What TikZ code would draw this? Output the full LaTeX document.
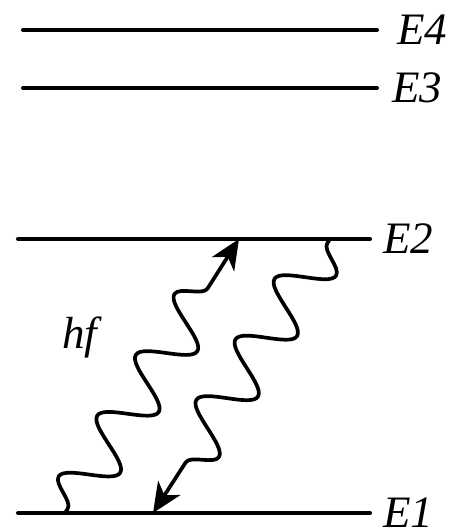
\documentclass[tikz,border=0pt]{standalone}
\usepackage{fontspec}
\setmainfont{Liberation Serif}
\usetikzlibrary{arrows.meta, positioning, decorations.pathmorphing}

\begin{document}
\begin{tikzpicture}[
  level/.style={line width=2.3pt, line cap=round},
  lbl/.style={font=\fontsize{25.6}{30}\selectfont\itshape, inner sep=0pt},
  wave/.style={line width=2.1pt, line join=round, decorate,
               decoration={snake, segment length=1.44cm, amplitude=0.5cm,
                           pre length=0.1cm}},
  arr/.style={line width=2.1pt, -{Stealth[length=17pt, width=15pt, inset=5pt]}}
]
\useasboundingbox (0,0) rectangle (9.3,10.62);

% energy levels
\coordinate (e1a) at (0.36,0.36);
\coordinate (e1b) at (7.4,0.36);
\coordinate (e2a) at (0.36,5.84);
\coordinate (e2b) at (7.4,5.84);
\coordinate (e3a) at (0.46,8.86);
\coordinate (e3b) at (7.54,8.86);
\coordinate (e4a) at (0.46,10.02);
\coordinate (e4b) at (7.54,10.02);

\draw[level] (e1a) -- (e1b);
\draw[level] (e2a) -- (e2b);
\draw[level] (e3a) -- (e3b);
\draw[level] (e4a) -- (e4b);

\node[lbl, right=0.26cm of e1b] (e1) {E1};
\node[lbl, right=0.26cm of e2b] (e2) {E2};
\node[lbl, right=0.3cm of e3b] (e3) {E3};
\node[lbl, right=0.4cm of e4b] (e4) {E4};

% photons
\coordinate (up1) at (1.3,0.36);
\coordinate (up2) at (4.78,5.84);
\coordinate (dn1) at (6.6,5.84);
\coordinate (dn2) at (3.06,0.36);
\path (up1) -- (up2) coordinate[pos=0.88] (up3);
\path (dn1) -- (dn2) coordinate[pos=0.88] (dn3);

\draw[wave] (up1) -- (up3);
\draw[arr] (up3) -- (up2);
\draw[wave] (dn1) -- (dn3);
\draw[arr] (dn3) -- (dn2);

\node[lbl] (hf) at (1.6,3.88) {hf};
\end{tikzpicture}
\end{document}
